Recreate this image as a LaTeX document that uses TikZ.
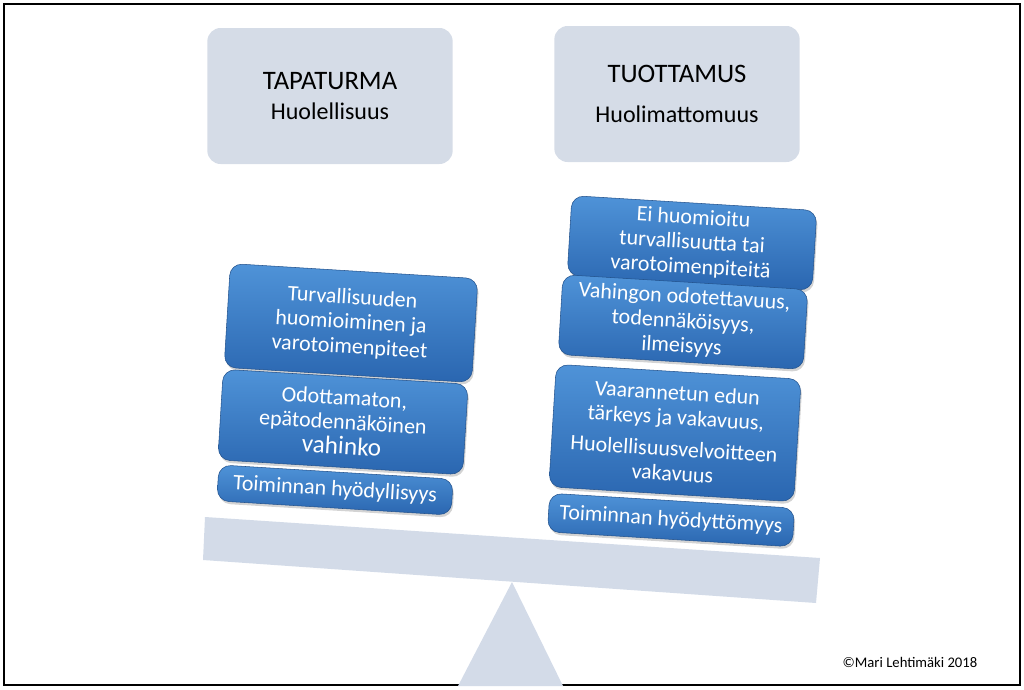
\documentclass[tikz,border=0pt]{standalone}
\usepackage{fontspec}
\setmainfont{Carlito}
\usetikzlibrary{shadows}
\definecolor{hdr}{HTML}{D5DCE7}
\definecolor{btop}{HTML}{4F93D8}
\definecolor{bbot}{HTML}{2A66B0}
\definecolor{bar}{HTML}{D3DBE8}
\tikzset{
 hbox/.style={draw=none,fill=hdr,rounded corners=10pt,minimum width=184pt,minimum height=102pt,align=center,font=\fontsize{20}{24}\selectfont},
 bbox/.style={draw=bbot!80!black,rounded corners=9pt,top color=btop,bottom color=bbot,text=white,align=center,inner sep=1pt,font=\fontsize{16.5}{18.5}\selectfont,rotate=-3.5,drop shadow={opacity=0.35,shadow xshift=1pt,shadow yshift=-2pt}},
}
\begin{document}
\begin{tikzpicture}[x=0.75pt,y=-0.75pt]
\useasboundingbox (0,0) rectangle (1024,689);
\draw[line width=1.2pt] (4,4) rectangle (1020,685);
\node[hbox] (t1) at (330,96) {TAPATURMA\\[-2pt]\fontsize{18}{22}\selectfont Huolellisuus};
\node[hbox] (t2) at (677,94) {TUOTTAMUS\\[6pt]\fontsize{18}{22}\selectfont Huolimattomuus};
\fill[bar] (205,517) -- (820,558) -- (816,603) -- (203,560) -- cycle;
\fill[bar] (458,686) -- (512,582) -- (563,686) -- cycle;
\node[bbox,minimum width=186pt,minimum height=78pt] (l1) at (351,323) {Turvallisuuden\\huomioiminen ja\\varotoimenpiteet};
\node[bbox,minimum width=184pt,minimum height=68pt] (l2) at (343,422) {Odottamaton,\\epätodennäköinen\\{\fontsize{19}{20}\selectfont vahinko}};
\node[bbox,minimum width=176pt,minimum height=27pt] (l3) at (335,490) {Toiminnan hyödyllisyys};
\node[bbox,minimum width=184pt,minimum height=60pt] (r1) at (692,243) {Ei huomioitu\\turvallisuutta tai\\varotoimenpiteitä};
\node[bbox,minimum width=184pt,minimum height=60pt] (r2) at (683,322) {Vahingon odotettavuus,\\todennäköisyys,\\ilmeisyys};
\node[bbox,minimum width=184pt,minimum height=92pt] (r3) at (675,433) {Vaarannetun edun\\tärkeys ja vakavuus,\\[5pt]Huolellisuusvelvoitteen\\vakavuus};
\node[bbox,minimum width=184pt,minimum height=29pt] (r4) at (671,520) {Toiminnan hyödyttömyys};
\node[font=\fontsize{11}{13}\selectfont] (c) at (910,662) {©Mari Lehtimäki 2018};
\end{tikzpicture}
\end{document}
